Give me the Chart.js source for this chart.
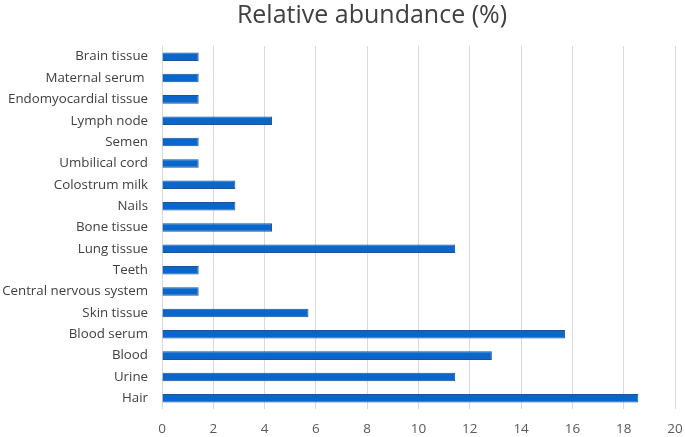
<!DOCTYPE html>
<html><head><meta charset="utf-8">
<script src="https://cdn.jsdelivr.net/npm/chart.js@4"></script>
<style>html,body{margin:0;padding:0;background:#fff}#w{width:685px;height:437px}</style>
</head><body><div id="w"><canvas id="c"></canvas></div>
<script>
const categories = ["Brain tissue","Maternal serum ","Endomyocardial tissue","Lymph node","Semen","Umbilical cord","Colostrum milk","Nails","Bone tissue","Lung tissue","Teeth","Central nervous system","Skin tissue","Blood serum","Blood","Urine","Hair"];
const abundance = [1.43,1.43,1.43,4.29,1.43,1.43,2.86,2.86,4.29,11.43,1.43,1.43,5.71,15.71,12.86,11.43,18.57];
const titleText = "Relative abundance (%)";
const xMin = 0, xMax = 20, xStep = 2;

const titlePlugin = {
  id: 'customTitle',
  afterDraw(chart) {
    const ctx = chart.ctx;
    ctx.save();
    ctx.font = '25px "Open Sans", "Noto Sans", sans-serif';
    ctx.fillStyle = '#404040';
    ctx.textAlign = 'center';
    ctx.textBaseline = 'middle';
    ctx.fillText(titleText, 372, 16);
    ctx.restore();
  }
};

new Chart(document.getElementById('c'), {
  type: 'bar',
  data: {
    labels: categories,
    datasets: [{
      data: abundance,
      backgroundColor: '#0A66C8',
      borderColor: '#1A52A0',
      borderWidth: 1,
      categoryPercentage: 1,
      barPercentage: 0.4
    }]
  },
  options: {
    indexAxis: 'y',
    responsive: true,
    maintainAspectRatio: false,
    animation: false,
    layout: { padding: { top: 46, right: 0, left: 0, bottom: 0 } },
    plugins: { legend: { display: false }, title: { display: false }, tooltip: { enabled: false } },
    scales: {
      x: {
        min: xMin, max: xMax,
        ticks: { stepSize: xStep, color: '#595959', font: { size: 13.5, family: '"Open Sans", "Noto Sans", sans-serif' }, padding: 12 },
        grid: { color: '#d9d9d9', drawTicks: false },
        border: { display: false },
        afterFit(scale) { scale.height = 28; scale.paddingRight = 10; scale.paddingLeft = 0; }
      },
      y: {
        ticks: { color: '#404040', font: { size: 13.3, family: '"Open Sans", "Noto Sans", sans-serif' }, padding: 14, autoSkip: false },
        grid: { display: false, drawTicks: false },
        border: { display: false },
        afterFit(scale) { scale.width = 162; scale.paddingTop = 0; scale.paddingBottom = 0; }
      }
    }
  },
  plugins: [titlePlugin]
});
</script></body></html>
